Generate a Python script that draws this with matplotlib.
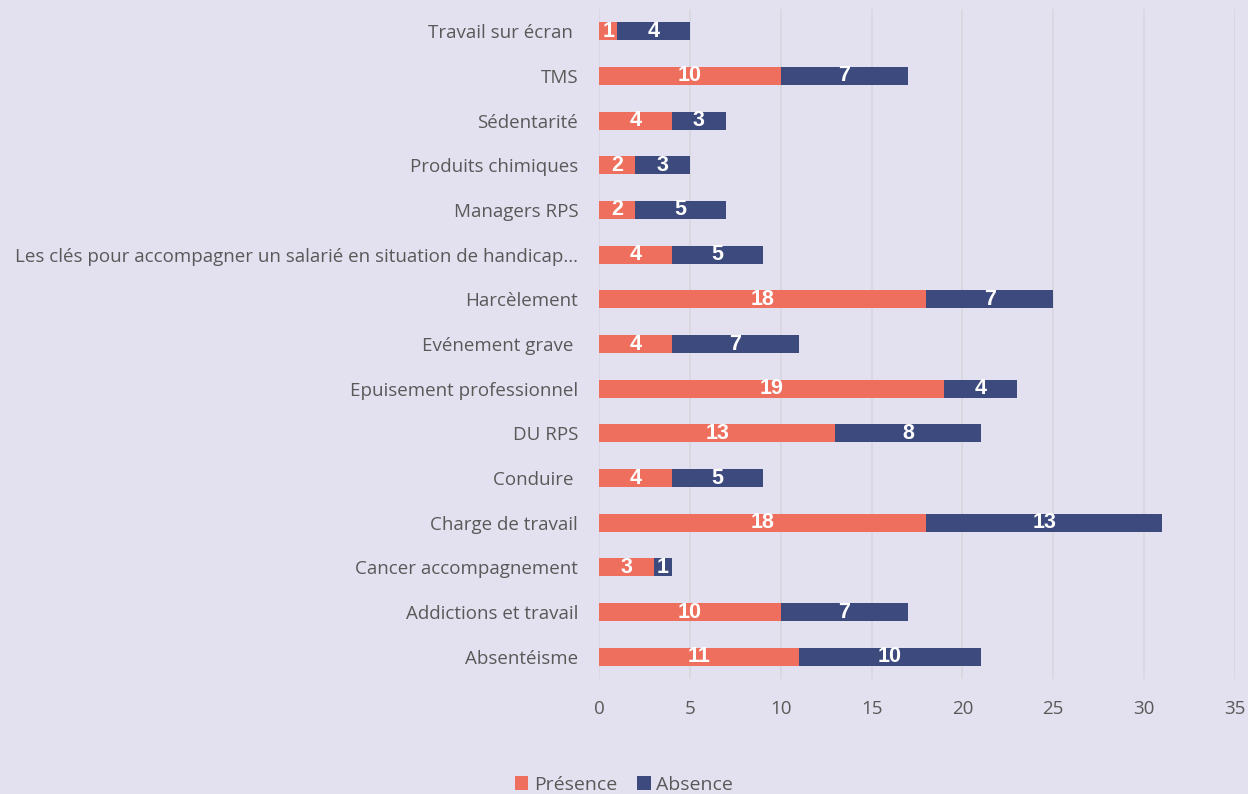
import matplotlib
matplotlib.use("Agg")
import matplotlib.pyplot as plt
import numpy as np

categories = [
    "Absentéisme",
    "Addictions et travail",
    "Cancer accompagnement",
    "Charge de travail",
    "Conduire ",
    "DU RPS",
    "Epuisement professionnel",
    "Evénement grave ",
    "Harcèlement",
    "Les clés pour accompagner un salarié en situation de handicap...",
    "Managers RPS",
    "Produits chimiques",
    "Sédentarité",
    "TMS",
    "Travail sur écran ",
]
presence = [11, 10, 3, 18, 4, 13, 19, 4, 18, 4, 2, 2, 4, 10, 1]
absence = [10, 7, 1, 13, 5, 8, 4, 7, 7, 5, 5, 3, 3, 7, 4]
x_ticks = [0, 5, 10, 15, 20, 25, 30, 35]

BG = "#E3E1EF"
RED = "#EF6F5F"
BLUE = "#3D4A7E"
TXT = "#595959"

fig = plt.figure(figsize=(12.48, 7.94), dpi=100, facecolor=BG)
ax = fig.add_axes([0.48, 0.1448, 0.5096, 0.8439], facecolor=BG)

y = np.arange(len(categories))
p = np.array(presence, dtype=float)
a = np.array(absence, dtype=float)
ax.barh(y, p, height=0.4, color=RED, label="Présence", zorder=3)
ax.barh(y, a, left=p, height=0.4, color=BLUE, label="Absence", zorder=3)

for yi, pv, av in zip(y, p, a):
    ax.text(pv / 2, yi, f"{pv:g}", ha="center", va="center", color="white",
            fontsize=15.5, fontweight="bold", family="Liberation Sans", zorder=4)
    ax.text(pv + av / 2, yi, f"{av:g}", ha="center", va="center", color="white",
            fontsize=15.5, fontweight="bold", family="Liberation Sans", zorder=4)

ax.set_xlim(0, 35)
ax.set_ylim(-0.5, len(categories) - 0.5)
ax.set_xticks(x_ticks)
ax.set_xticklabels([str(t) for t in x_ticks], fontsize=13.5, color=TXT, family="Open Sans")
ax.set_yticks(y)
ax.set_yticklabels(categories, fontsize=13.5, color=TXT, family="Open Sans")
ax.tick_params(axis="both", length=0)
ax.tick_params(axis="x", pad=15)
ax.tick_params(axis="y", pad=15)
ax.grid(axis="x", color="#D8D7DF", linewidth=1.2, zorder=0)
for s in ax.spines.values():
    s.set_visible(False)

leg = fig.legend(loc="lower center", bbox_to_anchor=(0.5, -0.022), ncol=2, frameon=False,
                 handlelength=0.7, handleheight=0.7, handletextpad=0.3,
                 columnspacing=1.0, prop={"family": "Open Sans", "size": 14})
for t in leg.get_texts():
    t.set_color(TXT)

fig.savefig("out.png", dpi=100, facecolor=BG)
